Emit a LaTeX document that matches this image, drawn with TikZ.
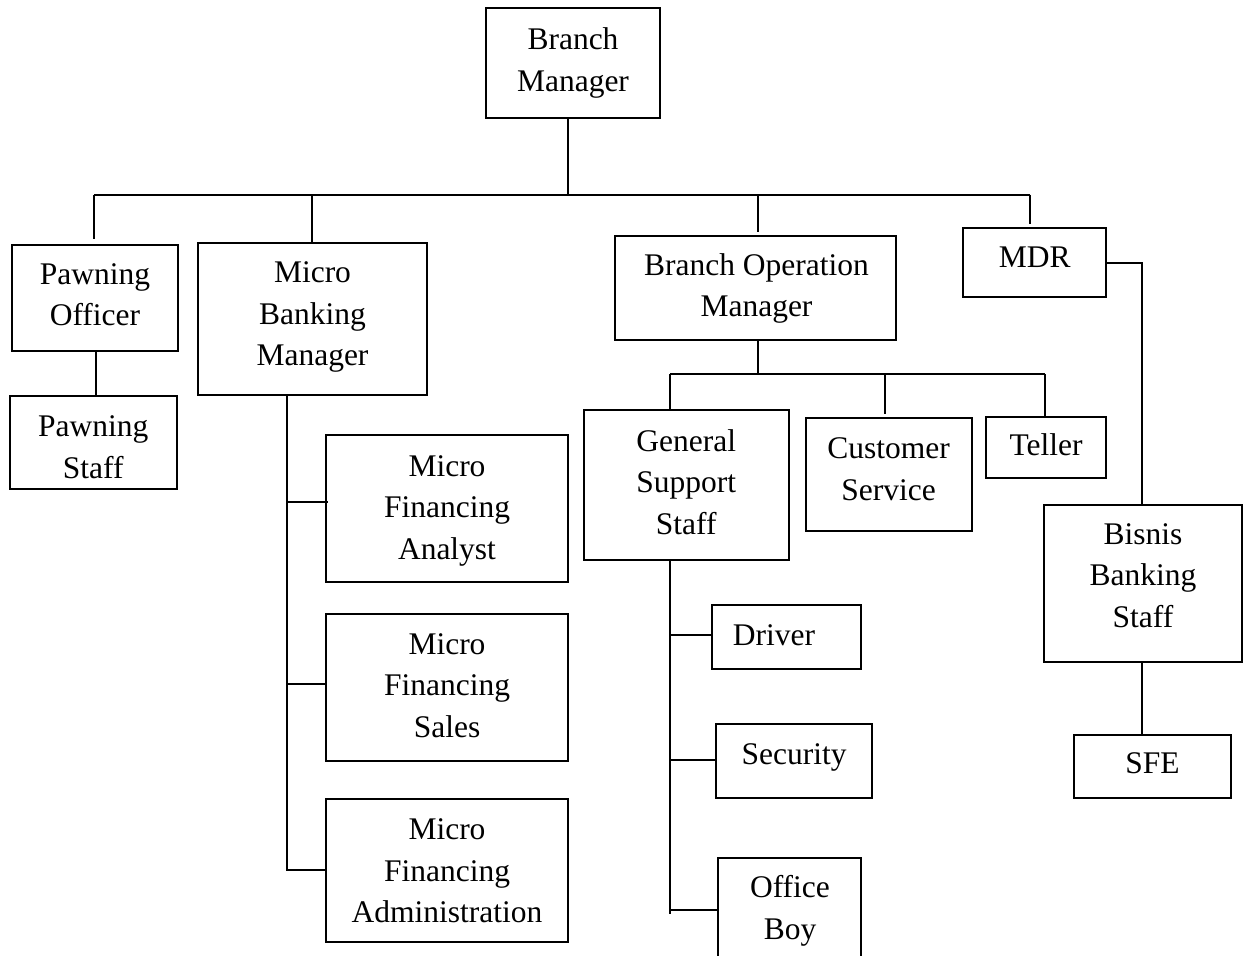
\documentclass[tikz,border=0pt]{standalone}
\usepackage{fontspec}
\setmainfont{Liberation Serif}
\begin{document}
\begin{tikzpicture}[x=1bp,y=-1bp,
  box/.style={draw,line width=2bp,rectangle,inner sep=0pt},
  lbl/.style={align=center,inner sep=0pt,anchor=base,font={\fontsize{31.5bp}{41.5bp}\selectfont}},
  conn/.style={line width=2bp}]
\useasboundingbox (0,0) rectangle (1248,956);
\clip (0,0) rectangle (1248,956);
% boxes
\node[box,minimum width=174bp,minimum height=110bp] (bm) at (573,63.3) {};
\node[box,minimum width=166.6bp,minimum height=106bp] (po) at (95,298) {};
\node[box,minimum width=166.7bp,minimum height=93.6bp] (ps) at (93.3,442.5) {};
\node[box,minimum width=228.4bp,minimum height=152.3bp] (mbm) at (312.5,318.8) {};
\node[box,minimum width=242bp,minimum height=147bp] (mfa) at (447,508) {};
\node[box,minimum width=242bp,minimum height=147bp] (mfs) at (447,687) {};
\node[box,minimum width=242bp,minimum height=143.5bp] (mfad) at (447,870.7) {};
\node[box,minimum width=281bp,minimum height=104bp] (bom) at (755.9,288) {};
\node[box,minimum width=142.7bp,minimum height=69bp] (mdr) at (1034.7,262.8) {};
\node[box,minimum width=204.7bp,minimum height=150bp] (gss) at (686.3,485) {};
\node[box,minimum width=166bp,minimum height=112.7bp] (cs) at (888.7,474.7) {};
\node[box,minimum width=120.4bp,minimum height=61.6bp] (tel) at (1046.2,447.5) {};
\node[box,minimum width=198bp,minimum height=157bp] (bbs) at (1143,583.5) {};
\node[box,minimum width=148.7bp,minimum height=63.7bp] (drv) at (786.3,637.2) {};
\node[box,minimum width=156.3bp,minimum height=74bp] (sec) at (794.2,761.3) {};
\node[box,minimum width=142.4bp,minimum height=116.7bp] (ob) at (789.5,916.7) {};
\node[box,minimum width=156.4bp,minimum height=63bp] (sfe) at (1152.5,766.5) {};
% texts (anchor base = baseline of the last line)
\node[lbl] (bmt) at (573,91) {Branch\\Manager};
\node[lbl] (pot) at (95,325.5) {Pawning\\Officer};
\node[lbl] (pst) at (93.3,478.2) {Pawning\\Staff};
\node[lbl] (mbmt) at (312.5,365.5) {Micro\\Banking\\Manager};
\node[lbl] (mfat) at (447,559) {Micro\\Financing\\Analyst};
\node[lbl] (mfst) at (447,737) {Micro\\Financing\\Sales};
\node[lbl] (mfadt) at (447,922.6) {Micro\\Financing\\Administration};
\node[lbl] (bomt) at (756.5,316.5) {Branch Operation\\Manager};
\node[lbl] (mdrt) at (1034.7,267.5) {MDR};
\node[lbl] (gsst) at (686.3,534) {General\\Support\\Staff};
\node[lbl] (cst) at (888.7,500) {Customer\\Service};
\node[lbl] (telt) at (1046,455) {Teller};
\node[lbl] (bbst) at (1143,627) {Bisnis\\Banking\\Staff};
\node[lbl] (drvt) at (774,645) {Driver};
\node[lbl] (sect) at (794.2,764) {Security};
\node[lbl] (obt) at (790,939) {Office\\Boy};
\node[lbl] (sfet) at (1152.5,773.3) {SFE};
% junction coordinates
\coordinate (j0) at (568,194.5);
\coordinate (busL) at (94,194.5);
\coordinate (busR) at (1030,194.5);
\coordinate (d2) at (312.3,194.5);
\coordinate (d3) at (758,194.5);
\coordinate (pp) at (96,351);
\coordinate (t0) at (286.5,870.8);
\coordinate (k1) at (286.5,502.4);
\coordinate (k2) at (286.5,684.4);
\coordinate (k3) at (286.5,870);
\coordinate (b0) at (758,374);
\coordinate (bl) at (670.3,374);
\coordinate (bc) at (885,374);
\coordinate (br) at (1044.5,374);
\coordinate (mx) at (1142,505);
\coordinate (g0) at (670,914);
\coordinate (g1) at (670,634.7);
\coordinate (g2) at (670,760);
\coordinate (g3) at (670,910);
% connectors
\draw[conn] (j0 |- bm.south) -- (j0);
\draw[conn] (busL) -- (busR);
\draw[conn,shorten >=5bp] (busL) -- (busL |- po.north);
\draw[conn] (d2) -- (d2 |- mbm.north);
\draw[conn,shorten >=3bp] (d3) -- (d3 |- bom.north);
\draw[conn,shorten >=3bp] (busR) -- (busR |- mdr.north);
\draw[conn] (pp |- po.south) -- (pp |- ps.north);
\draw[conn] (t0 |- mbm.south) -- (t0);
\draw[conn] (k1) -- ([xshift=3bp]k1 -| mfa.west);
\draw[conn] (k2) -- (k2 -| mfs.west);
\draw[conn] (k3) -- (k3 -| mfad.west);
\draw[conn] (b0 |- bom.south) -- (b0);
\draw[conn] (bl) -- (br);
\draw[conn] (bl) -- (bl |- gss.north);
\draw[conn,shorten >=3bp] (bc) -- (bc |- cs.north);
\draw[conn] (br) -- (br |- tel.north);
\draw[conn] (mdr.east) -| (mx);
\draw[conn] (mx |- bbs.south) -- (mx |- sfe.north);
\draw[conn] (g0 |- gss.south) -- (g0);
\draw[conn] (g1) -- (g1 -| drv.west);
\draw[conn] (g2) -- (g2 -| sec.west);
\draw[conn] (g3) -- (g3 -| ob.west);
\end{tikzpicture}
\end{document}
